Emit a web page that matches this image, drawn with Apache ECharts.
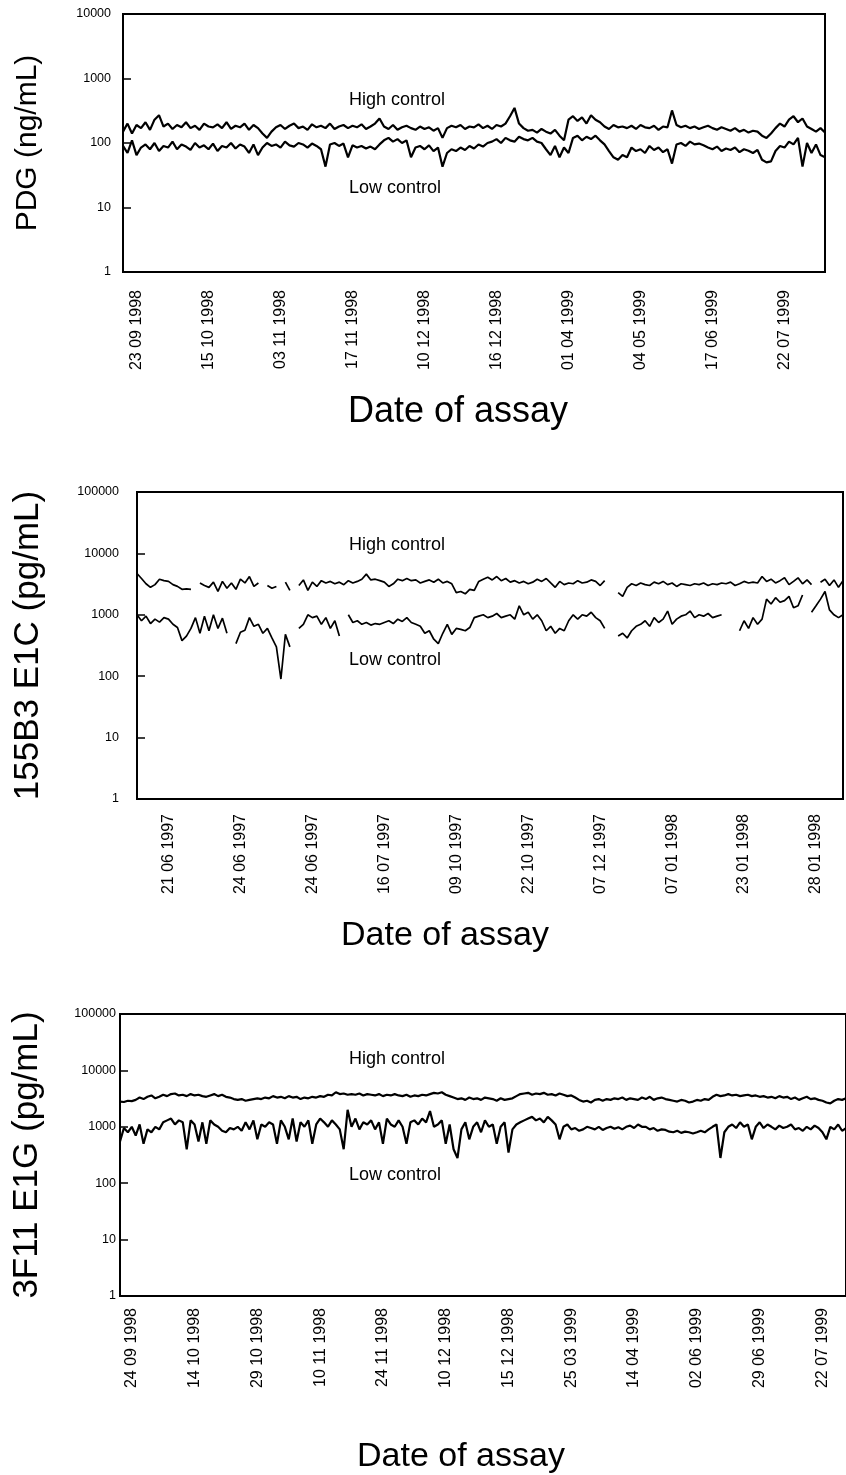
<!DOCTYPE html>
<html>
<head>
<meta charset="utf-8">
<script src="https://cdn.jsdelivr.net/npm/echarts@6/dist/echarts.min.js"></script>
<style>
  html, body { margin: 0; padding: 0; background: #fff; }
  #chart { width: 846px; height: 1475px; }
</style>
</head>
<body>
<div id="chart"></div>
<script>
// tick labels (one every 16 assays)
const pdgDates = ['23 09 1998', '15 10 1998', '03 11 1998', '17 11 1998', '10 12 1998',
  '16 12 1998', '01 04 1999', '04 05 1999', '17 06 1999', '22 07 1999']
const e1cDates = ['21 06 1997', '24 06 1997', '24 06 1997', '16 07 1997', '09 10 1997',
  '22 10 1997', '07 12 1997', '07 01 1998', '23 01 1998', '28 01 1998']
const e1gDates = ['24 09 1998', '14 10 1998', '29 10 1998', '10 11 1998', '24 11 1998',
  '10 12 1998', '15 12 1998', '25 03 1999', '14 04 1999', '02 06 1999', '29 06 1999', '22 07 1999']

// PDG (ng/mL)
const pdgHigh = [
  150, 200, 140, 190, 170, 210, 160, 230, 270,
  180, 200, 165, 190, 175, 210, 170, 185, 160, 200, 180, 175, 195, 170, 210, 165, 185, 175, 200, 160, 190, 170,
  140, 120, 150,
  175, 190, 165, 185, 200, 170, 180, 160, 195, 175, 185, 170, 200, 165, 180, 190, 170, 185, 175, 195, 165, 180, 200, 240,
  180, 165, 190, 160, 175, 185, 170, 160, 180, 165, 175, 155, 170, 120,
  170, 185, 175, 190, 165, 180, 175, 195, 170, 185, 165, 190, 180, 200,
  260, 350,
  200, 170, 155, 160, 145, 165, 150, 140, 160, 130, 110,
  230, 260, 220, 250, 200, 270, 230, 210,
  180, 165, 190, 175,
  180, 170, 185, 165, 190, 175, 170, 185, 160, 180, 175,
  320,
  190, 175, 185, 170, 180, 165, 175, 185, 170, 160, 175, 165, 155, 170, 150, 160, 145, 155, 150,
  130, 120, 140,
  170, 200, 180, 230, 260, 210,
  240, 180, 165, 150, 170, 145
]
const pdgLow = [
  90, 70, 110, 65,
  85, 95, 80, 100, 75, 90, 85, 105, 80, 95, 88, 78, 100, 85, 92, 80, 98, 75, 90, 85, 100, 82, 95, 88,
  70, 95, 65, 85,
  100, 90, 95, 85, 105, 92, 88, 100, 95, 85, 98, 90, 80,
  43,
  95, 100, 90, 98, 60, 92,
  85, 90, 82, 88, 80, 95,
  110, 120, 105, 115, 100, 110,
  60,
  85, 90, 80, 92, 75, 85, 43,
  70, 80, 75, 85, 78, 90, 82, 95, 88, 100,
  105, 115, 100, 120, 110, 105, 125, 115, 110, 120, 105, 100,
  80, 65, 90, 60, 85, 70,
  120, 130, 110, 125, 115, 130, 110,
  95, 75, 60, 55, 65, 60,
  85, 75, 80, 70, 90, 78, 85, 72, 80,
  48,
  95, 100, 90, 105, 95, 98, 92,
  85, 80, 88, 75, 82, 78, 85, 72, 80, 76, 70, 78,
  55, 50, 52,
  75, 90, 85, 105, 95, 120,
  43,
  100, 70, 95, 65, 60
]

// 155B3 E1C (pg/mL), null = no assay
const e1cHigh = [
  4700, 3900, 3200, 2800, 3100, 3800, 3600, 3500, 3100, 2900,
  2600, 2650, 2600, null, 3300, 3000, 2800, 3400, 2400, 3500,
  2700, 3300, 2600, 3800, 3300, 4200, 2900, 3300, null, 3000,
  2700, 2900, null, 3400, 2500, null, 3000, 3700, 2500, 3400,
  2900, 3600, 3300, 3500, 3200, 3400, 3100, 3600, 3300, 3500,
  3800, 4600, 3700, 3800, 3600, 3400, 2900, 3200, 3800, 3600,
  3900, 3600, 3700, 3300, 3500, 3700, 3400, 3800, 3300, 3500,
  3200, 2300, 2400, 2200, 2600, 2500, 3500, 3800, 4100, 3700,
  4200, 3600, 3900, 3400, 3600, 3300, 3500, 3200, 3400, 3800,
  3500, 3900, 3300, 2800, 3500, 3100, 3300, 3200, 3600, 3300,
  3400, 3700, 3500, 3000, 3600, null, null, 2300, 2000, 2800,
  3200, 3000, 3300, 3100, 3000, 3400, 3200, 3500, 3100, 3300,
  2900, 3200, 3100, 3000, 3200, 3100, 3300, 3000, 3200, 3100,
  3300, 3200, 3400, 3000, 3200, 3500, 3300, 3400, 3300, 4200,
  3500, 3800, 3300, 3600, 4000, 3100, 3500, 4000, 3200, 3700,
  3100, null, 3400, 3800, 3000, 3700, 2800, 3600
]
const e1cLow = [
  1000, 800, 950, 720, 850, 760, 900, 850, 700, 620,
  380, 450, 600, 900, 500, 950, 550, 1000, 600, 880,
  500, null, 340, 520, 560, 900, 650, 700, 500, 600,
  420, 300, 90, 480, 300, null, 600, 700, 1000, 900,
  950, 700, 900, 600, 800, 450, null, 1000, 750, 800,
  700, 750, 680, 720, 700, 750, 800, 720, 850, 780,
  900, 750, 700, 650, 500, 550, 400, 340, 500, 700,
  480, 600, 580, 550, 620, 900, 950, 1000, 900, 950,
  1050, 900, 950, 1000, 850, 1400, 1000, 1100, 850, 1000,
  800, 550, 650, 500, 600, 550, 800, 1000, 850, 1000,
  950, 1100, 900, 800, 600, null, null, 450, 500, 420,
  550, 650, 700, 800, 650, 900, 750, 850, 1150, 700,
  850, 950, 1000, 1150, 900, 1000, 950, 1050, 900, 950,
  1000, null, 900, null, 550, 800, 600, 900, 700, 850,
  1800, 1500, 1900, 1600, 1700, 2000, 1300, 1400, 2100, null,
  1100, 1400, 1800, 2400, 1200, 1000, 900, 1000
]

// 3F11 E1G (pg/mL)
const e1gHigh = [
  2800, 2750, 2900, 2850, 3000, 3300, 3100, 3400, 3600, 3200,
  3400, 3700, 3500, 3800, 3900, 3600, 3700, 3500, 3800, 3600,
  3700, 3500, 3400, 3600, 3800, 3500, 3700, 3400, 3300, 3100,
  3000, 3100, 2900, 3000, 3100, 3200, 3100, 3300, 3200, 3500,
  3300, 3400, 3200, 3500, 3300, 3400, 3100, 3300, 3200, 3400,
  3300, 3500, 3400, 3700, 3600, 4100, 3800, 3900, 3700, 3800,
  3700, 3900, 3600, 3800, 3700, 3600, 3800, 3500, 3700, 3600,
  3800, 3600, 3500, 3700, 3400, 3600, 3500, 3700, 3600, 3800,
  4000, 3900, 4100, 3700, 3500, 3300, 3100, 3200, 3000, 3300,
  3100, 3200, 3000, 3300, 3200, 3100, 2900, 3200, 3000, 3100,
  3200, 3500, 3800, 3900, 4000, 3700, 3900, 3800, 4000, 3700,
  3800, 3600, 3900, 3700, 3500, 3600, 3300, 3000, 2800, 2900,
  2700, 3000, 3100, 2900, 3100, 3000, 3200, 3100, 3300, 3000,
  3200, 3100, 3000, 3300, 3100, 3400, 3000, 3200, 3300, 3100,
  3000, 2900, 2800, 3000, 2900, 2700, 2800, 3000, 2900, 3100,
  3000, 3400, 3700, 3500, 3600, 3800, 3600, 3700, 3500, 3600,
  3700, 3500, 3600, 3400, 3500, 3300, 3400, 3200, 3500, 3300,
  3400, 3100, 3300, 3000, 3200, 3400, 3100, 3200, 3000, 2900,
  2700, 2600, 2900, 3100, 3000, 3200
]
const e1gLow = [
  550, 950, 800, 1000, 700, 1100, 500, 900, 800, 1000,
  900, 1200, 1300, 1400, 1100, 1300, 1200, 400, 1300, 1100,
  550, 1200, 500, 1300, 1100, 1000, 850, 800, 950, 900,
  1000, 850, 1200, 900, 1300, 600, 1100, 1000, 1200, 1100,
  500, 1300, 1000, 600, 1400, 550, 1200, 1000, 1300, 500,
  1100, 1400, 1200, 1000, 1300, 1100, 900, 400, 2000, 1000,
  1400, 900, 1200, 1100, 1300, 900, 1200, 500, 1400, 1100,
  1000, 1300, 1000, 500, 1200, 1300, 1100, 1400, 1200, 1900,
  1000, 1100, 1300, 500, 1100, 400, 280, 900, 1200, 600,
  1000, 1200, 800, 1300, 1000, 1100, 500, 1000, 1200, 350,
  900, 1100, 1200, 1300, 1400, 1500, 1300, 1400, 1200, 1500,
  1300, 1100, 600, 1000, 1100, 900, 950, 850, 900, 1000,
  950, 900, 1000, 880, 950, 1000, 920, 980, 900, 1000,
  1050, 950, 1100, 1000, 1000, 900, 950, 850, 900, 880,
  820, 800, 850, 780, 820, 800, 760, 800, 850, 800,
  900, 1000, 1100, 280, 800, 1000, 1100, 950, 1200, 1000,
  1100, 600, 1000, 1200, 950, 1100, 1000, 900, 1050, 950,
  1000, 1100, 900, 950, 850, 1000, 900, 1050, 950, 800,
  600, 1000, 900, 1100, 850, 950
]

const font = '"Liberation Sans", Arial, sans-serif'
const LABEL_START = 3
const LABEL_STEP = 16

// put each date on its assay index, blank elsewhere
function buildCategories(n, dates, start) {
  return Array.from({ length: n }, (_, i) => {
    const k = (i - start) / LABEL_STEP
    return Number.isInteger(k) && k >= 0 && k < dates.length ? dates[k] : ''
  })
}

const panels = [
  { grid: { left: 123, top: 14, width: 702, height: 258 }, high: pdgHigh, low: pdgLow,
    dates: pdgDates, start: LABEL_START, max: 10000, name: 'PDG (ng/mL)', nameSize: 30, nameGap: 80,
    labelMargin: 12, xMargin: 18, lineWidth: 2.2 },
  { grid: { left: 137, top: 492, width: 706, height: 307 }, high: e1cHigh, low: e1cLow,
    dates: e1cDates, start: 7, max: 100000, name: '155B3 E1C (pg/mL)', nameSize: 35, nameGap: 91,
    labelMargin: 18, xMargin: 15, lineWidth: 1.7 },
  { grid: { left: 120, top: 1014, width: 736, height: 282 }, high: e1gHigh, low: e1gLow,
    dates: e1gDates, start: LABEL_START, max: 100000, name: '3F11 E1G (pg/mL)', nameSize: 35, nameGap: 75,
    labelMargin: 4, xMargin: 12, lineWidth: 2.2 }
]

const chart = echarts.init(document.getElementById('chart'))

const option = {
  backgroundColor: '#fff',
  animation: false,
  grid: panels.map(p => ({ ...p.grid, show: true, borderColor: '#000', borderWidth: 2, backgroundColor: 'transparent' })),
  xAxis: panels.map((p, idx) => ({
    type: 'category',
    gridIndex: idx,
    boundaryGap: false,
    data: buildCategories(p.high.length, p.dates, p.start),
    axisLine: { show: false },
    axisTick: { show: false },
    splitLine: { show: false },
    axisLabel: {
      interval: (i, v) => v !== '',
      rotate: 90,
      margin: p.xMargin,
      color: '#000',
      fontSize: 16,
      fontFamily: font
    }
  })),
  yAxis: panels.map((p, idx) => ({
    type: 'log',
    logBase: 10,
    gridIndex: idx,
    min: 1,
    max: p.max,
    interval: 1,
    name: p.name,
    nameLocation: 'middle',
    nameRotate: 90,
    nameGap: p.nameGap,
    nameTextStyle: { color: '#000', fontSize: p.nameSize, fontFamily: font },
    axisLine: { show: true, lineStyle: { color: '#000', width: 2 } },
    axisTick: { show: true, inside: true, length: 8, lineStyle: { color: '#000', width: 1.5 } },
    minorTick: { show: false },
    splitLine: { show: false },
    axisLabel: {
      margin: p.labelMargin,
      color: '#000',
      fontSize: 12.5,
      fontFamily: font,
      formatter: v => String(Math.round(v))
    }
  })),
  series: panels.flatMap((p, idx) => [
    { name: 'High control', data: p.high },
    { name: 'Low control', data: p.low }
  ].map(s => ({
    ...s,
    type: 'line',
    xAxisIndex: idx,
    yAxisIndex: idx,
    showSymbol: false,
    connectNulls: false,
    lineStyle: { color: '#000', width: p.lineWidth },
    emphasis: { disabled: true }
  }))),
  graphic: [
    { type: 'text', left: 349, top: 91, style: { text: 'High control', font: '18px ' + font, fill: '#000' } },
    { type: 'text', left: 349, top: 179, style: { text: 'Low control', font: '18px ' + font, fill: '#000' } },
    { type: 'text', left: 349, top: 536, style: { text: 'High control', font: '18px ' + font, fill: '#000' } },
    { type: 'text', left: 349, top: 651, style: { text: 'Low control', font: '18px ' + font, fill: '#000' } },
    { type: 'text', left: 349, top: 1050, style: { text: 'High control', font: '18px ' + font, fill: '#000' } },
    { type: 'text', left: 349, top: 1166, style: { text: 'Low control', font: '18px ' + font, fill: '#000' } },
    { type: 'text', left: 348, top: 394, style: { text: 'Date of assay', font: '36px ' + font, fill: '#000' } },
    { type: 'text', left: 341, top: 919, style: { text: 'Date of assay', font: '34px ' + font, fill: '#000' } },
    { type: 'text', left: 357, top: 1440, style: { text: 'Date of assay', font: '34px ' + font, fill: '#000' } }
  ]
}

chart.setOption(option)
</script>
</body>
</html>
